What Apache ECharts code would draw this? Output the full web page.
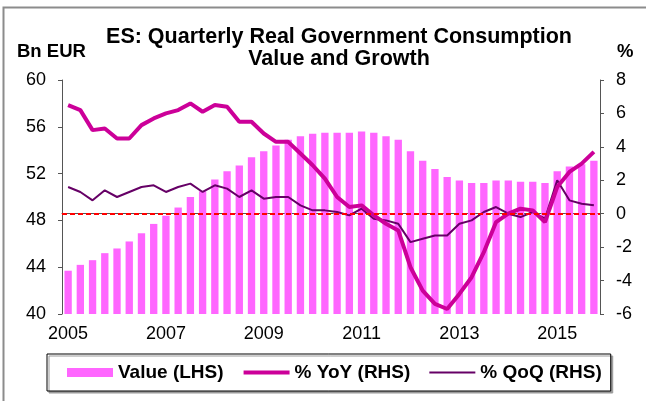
<!DOCTYPE html>
<html>
<head>
<meta charset="utf-8">
<script src="https://cdn.jsdelivr.net/npm/echarts@6/dist/echarts.min.js"></script>
<style>
  html, body { margin: 0; padding: 0; background: #ffffff; }
  #chart { width: 646px; height: 401px; }
</style>
</head>
<body>
<div id="chart"></div>
<script>
  // quarters 2005Q1 .. 2015Q4
  const years = [2005, 2006, 2007, 2008, 2009, 2010, 2011, 2012, 2013, 2014, 2015]
  const quarters = ['Q1', 'Q2', 'Q3', 'Q4']
  const categories = []
  years.forEach(y => quarters.forEach(q => categories.push(y + q)))

  // Bn EUR (LHS)
  const valueLhs = [
    43.7, 44.2, 44.6, 45.2, 45.6, 46.2, 46.9, 47.7,
    48.4, 49.1, 50.0, 50.5, 51.5, 52.2, 52.7, 53.4,
    53.9, 54.4, 54.9, 55.2, 55.4, 55.5, 55.5, 55.5,
    55.6, 55.5, 55.2, 54.9, 53.9, 53.1, 52.4, 51.7,
    51.4, 51.2, 51.2, 51.4, 51.4, 51.3, 51.3, 51.2,
    52.2, 52.6, 52.8, 53.1
  ]

  // % YoY (RHS)
  const yoy = [
    6.5, 6.2, 5.0, 5.1, 4.5, 4.5, 5.3, 5.7,
    6.0, 6.2, 6.6, 6.1, 6.5, 6.4, 5.5, 5.5,
    4.8, 4.3, 4.3, 3.6, 2.9, 2.1, 1.0, 0.4,
    0.5, -0.1, -0.6, -1.0, -3.2, -4.6, -5.4, -5.7,
    -4.8, -3.8, -2.3, -0.5, 0.0, 0.3, 0.2, -0.5,
    1.6, 2.5, 3.0, 3.7
  ]

  // % QoQ (RHS)
  const qoq = [
    1.6, 1.3, 0.8, 1.4, 1.0, 1.3, 1.6, 1.7,
    1.3, 1.6, 1.8, 1.3, 1.7, 1.5, 1.0, 1.4,
    0.9, 1.0, 1.0, 0.5, 0.2, 0.2, 0.1, -0.1,
    0.3, -0.3, -0.4, -0.6, -1.7, -1.5, -1.3, -1.3,
    -0.6, -0.4, 0.1, 0.4, 0.0, -0.2, 0.1, -0.3,
    2.0, 0.8, 0.6, 0.5
  ]

  const font = 'Liberation Sans, Arial, sans-serif'
  const axisColor = '#555555'

  const chart = echarts.init(document.getElementById('chart'), null, { renderer: 'canvas' })
  chart.setOption({
    animation: false,
    backgroundColor: '#ffffff',
    textStyle: { fontFamily: font },
    title: {
      text: 'ES: Quarterly Real Government Consumption\nValue and Growth',
      left: 334,
      top: 21,
      textAlign: 'center',
      textStyle: {
        fontFamily: font,
        fontSize: 21.5,
        fontWeight: 'bold',
        color: '#000000',
        lineHeight: 22
      }
    },
    graphic: [
      // outer frame
      {
        type: 'rect',
        shape: { x: 3.5, y: 7.5, width: 700, height: 500 },
        style: { fill: 'none', stroke: '#8c8c8c', lineWidth: 2 },
        silent: true
      },
      {
        type: 'text',
        left: 17,
        top: 42,
        style: { text: 'Bn EUR', font: 'bold 18.5px ' + font, fill: '#000' }
      },
      {
        type: 'text',
        left: 617,
        top: 42,
        style: { text: '%', font: 'bold 18.5px ' + font, fill: '#000' }
      }
    ],
    legend: {
      left: 47,
      top: 354,
      orient: 'horizontal',
      padding: [9, 9, 9, 20],
      itemGap: 18,
      itemWidth: 46,
      itemHeight: 9,
      borderColor: '#000000',
      borderWidth: 1,
      backgroundColor: '#ffffff',
      shadowColor: '#9a9a9a',
      shadowOffsetX: 2,
      shadowOffsetY: 2,
      textStyle: { fontFamily: font, fontSize: 19, fontWeight: 'bold', color: '#000' },
      data: [
        { name: 'Value (LHS)', icon: 'rect' },
        { name: '% YoY (RHS)', itemStyle: { opacity: 0 }, lineStyle: { width: 4 } },
        { name: '% QoQ (RHS)', itemStyle: { opacity: 0 }, lineStyle: { width: 2 } }
      ]
    },
    grid: {
      left: 62,
      right: 46,
      top: 80,
      bottom: 87
    },
    xAxis: {
      type: 'category',
      data: categories,
      boundaryGap: true,
      axisLine: { lineStyle: { color: axisColor, width: 1 } },
      axisTick: {
        interval: 3,
        length: 5,
        lineStyle: { color: axisColor }
      },
      axisLabel: {
        interval: function (index) {
          return index % 8 === 0
        },
        formatter: function (v) {
          return v.slice(0, 4)
        },
        margin: 11,
        fontSize: 18,
        color: '#000'
      }
    },
    yAxis: [
      {
        type: 'value',
        min: 40,
        max: 60,
        interval: 4,
        axisLine: { show: true, lineStyle: { color: axisColor } },
        axisTick: { show: true, length: 4, lineStyle: { color: axisColor } },
        axisLabel: { margin: 16, fontSize: 18, color: '#000' },
        splitLine: { show: false }
      },
      {
        type: 'value',
        min: -6,
        max: 8,
        interval: 2,
        position: 'right',
        axisLine: { show: true, lineStyle: { color: axisColor } },
        axisTick: { show: true, length: 4, lineStyle: { color: axisColor } },
        axisLabel: { margin: 16, fontSize: 18, color: '#000' },
        splitLine: { show: false }
      }
    ],
    series: [
      {
        name: 'Value (LHS)',
        type: 'bar',
        yAxisIndex: 0,
        barCategoryGap: '40%',
        itemStyle: { color: '#ff66ff' },
        data: valueLhs
      },
      {
        name: '% QoQ (RHS)',
        type: 'line',
        yAxisIndex: 1,
        symbol: 'none',
        z: 3,
        lineStyle: { color: '#660066', width: 2 },
        itemStyle: { color: '#660066' },
        data: qoq,
        markLine: {
          silent: true,
          symbol: 'none',
          label: { show: false },
          lineStyle: { color: '#ff0000', type: [5, 3], width: 2 },
          data: [{ yAxis: 0 }]
        }
      },
      {
        name: '% YoY (RHS)',
        type: 'line',
        yAxisIndex: 1,
        symbol: 'none',
        z: 4,
        lineStyle: { color: '#cc0099', width: 4 },
        itemStyle: { color: '#cc0099' },
        data: yoy
      }
    ]
  })
</script>
</body>
</html>
